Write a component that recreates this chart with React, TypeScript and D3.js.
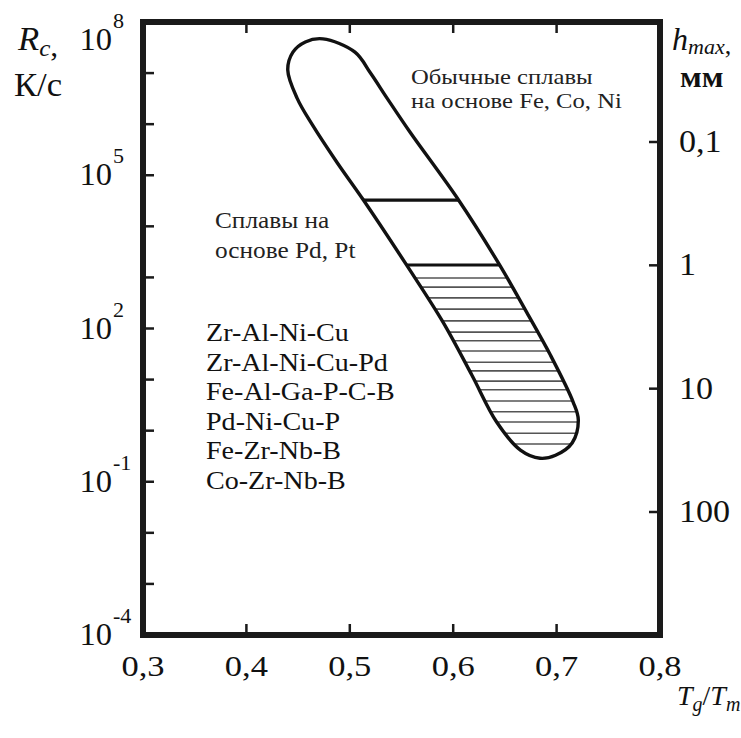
import React from 'react';
import * as d3 from 'd3';

// ---- data ----
const xTickValues = [0.3, 0.4, 0.5, 0.6, 0.7, 0.8];
const xTickLabels = ['0,3', '0,4', '0,5', '0,6', '0,7', '0,8'];
const rcLabelExps = [8, 5, 2, -1, -4];
const rcTickExps = [-4, -3, -2, -1, 0, 1, 2, 3, 4, 5, 6, 7, 8];
const hTickValues = [0.1, 1, 10, 100];
const hTickLabels = ['0,1', '1', '10', '100'];

// boundary of the glass-forming region: Tg/Tm and log10(Rc)
const regionTgTm = [0.474, 0.505, 0.52, 0.536, 0.558, 0.605, 0.645, 0.671, 0.694, 0.716, 0.721, 0.715, 0.699, 0.684, 0.665, 0.642, 0.618, 0.59, 0.555, 0.513, 0.488, 0.464, 0.449, 0.44, 0.445, 0.457];
const regionLogRc = [7.67, 7.41, 7.0, 6.51, 5.85, 4.52, 3.24, 2.32, 1.48, 0.56, 0.21, -0.24, -0.48, -0.54, -0.38, 0.17, 1.09, 2.13, 3.24, 4.52, 5.24, 5.98, 6.51, 7.06, 7.41, 7.61];
const separatorLogRc = [4.515, 3.243];
const hatchLogRc = [2.99, 2.81, 2.6, 2.38, 2.15, 1.93, 1.76, 1.56, 1.34, 1.17, 0.97, 0.8, 0.58, 0.37, 0.17, -0.05, -0.26];

const alloyNames = ['Zr-Al-Ni-Cu', 'Zr-Al-Ni-Cu-Pd', 'Fe-Al-Ga-P-C-B', 'Pd-Ni-Cu-P', 'Fe-Zr-Nb-B', 'Co-Zr-Nb-B'];
const ordinaryLines = ['Обычные сплавы', 'на основе Fe, Co, Ni'];
const pdLines = ['Сплавы на', 'основе Pd, Pt'];

const W = 741;
const H = 738;
const L = 143, R = 660, T = 22, B = 635;
const FONT = "'Liberation Serif', 'Times New Roman', serif";

const Txt = ({ x, y, size, sx = 1.1, anchor = 'start', children, ...rest }: any) => (
  <text
    transform={`translate(${x},${y}) scale(${sx},1)`}
    fontSize={size}
    textAnchor={anchor}
    fill="#111"
    style={{ fontFamily: FONT }}
    {...rest}
  >
    {children}
  </text>
);

export default function App() {
  const x = d3.scaleLinear().domain([0.3, 0.8]).range([L, R]);
  const y = d3.scaleLog().domain([1e-4, 1e8]).range([B, T]);
  const yh = d3.scaleLog().domain([0.1, 100]).range([142, 512]);

  const pts: [number, number][] = regionTgTm.map((v, i) => [v, Math.pow(10, regionLogRc[i])]);
  const shape = d3
    .line<[number, number]>()
    .x((d) => x(d[0]))
    .y((d) => y(d[1]))
    .curve(d3.curveCatmullRomClosed.alpha(0.5))(pts) as string;

  const tick = 11;

  return (
    <svg width={W} height={H} style={{ position: 'absolute', left: 0, top: 0, background: '#fff', fontFamily: FONT }}>
      <rect x={0} y={0} width={W} height={H} fill="#fff" />
      <defs>
        <clipPath id="regionClip">
          <path d={shape} />
        </clipPath>
      </defs>

      {/* hatching */}
      <g clipPath="url(#regionClip)">
        {hatchLogRc.map((v, i) => (
          <line key={i} x1={x(0.4)} x2={x(0.8)} y1={y(Math.pow(10, v))} y2={y(Math.pow(10, v))} stroke="#555" strokeWidth={1.6} />
        ))}
        {separatorLogRc.map((v, i) => (
          <line key={i} x1={x(0.4)} x2={x(0.8)} y1={y(Math.pow(10, v))} y2={y(Math.pow(10, v))} stroke="#111" strokeWidth={3.2} />
        ))}
      </g>
      <path d={shape} fill="none" stroke="#111" strokeWidth={3.4} />

      {/* frame */}
      <rect x={L} y={T} width={R - L} height={B - T} fill="none" stroke="#1a1a1a" strokeWidth={6} />

      {/* left ticks */}
      {rcTickExps.map((e) => (
        <line key={e} x1={L} x2={L + tick} y1={y(Math.pow(10, e))} y2={y(Math.pow(10, e))} stroke="#1a1a1a" strokeWidth={2.5} />
      ))}
      {/* bottom / top ticks */}
      {xTickValues.slice(1, -1).map((v) => (
        <g key={v}>
          <line x1={x(v)} x2={x(v)} y1={B} y2={B - tick} stroke="#1a1a1a" strokeWidth={2.5} />
          <line x1={x(v)} x2={x(v)} y1={T} y2={T + tick} stroke="#1a1a1a" strokeWidth={2.5} />
        </g>
      ))}
      {/* right ticks */}
      {hTickValues.map((v) => (
        <line key={v} x1={R} x2={R - tick} y1={yh(v)} y2={yh(v)} stroke="#1a1a1a" strokeWidth={2.5} />
      ))}

      {/* left labels */}
      {rcLabelExps.map((e) => {
        const yy = Math.max(y(Math.pow(10, e)) + 10, 50);
        return (
          <g key={e}>
            <Txt x={112} y={yy} size={31} anchor="end" sx={1.05}>10</Txt>
            <Txt x={113} y={yy - 22} size={21} sx={1.05}>{e}</Txt>
          </g>
        );
      })}
      {/* bottom labels */}
      {xTickValues.map((v, i) => (
        <Txt key={v} x={x(v)} y={676} size={30} anchor="middle" sx={1.15}>{xTickLabels[i]}</Txt>
      ))}
      {/* right labels */}
      {hTickValues.map((v, i) => (
        <Txt key={v} x={679} y={yh(v) + 10} size={31} sx={1.1}>{hTickLabels[i]}</Txt>
      ))}

      {/* axis titles */}
      <Txt x={18} y={50} size={33} sx={1.05}>
        <tspan fontStyle="italic">R</tspan>
        <tspan fontStyle="italic" fontSize={24} dy={6}>c</tspan>
        <tspan fontSize={30}>,</tspan>
      </Txt>
      <Txt x={14} y={96} size={33} sx={1.05}>К/с</Txt>

      <Txt x={672} y={50} size={32} sx={1.0}>
        <tspan fontStyle="italic">h</tspan>
        <tspan fontStyle="italic" fontSize={22} dy={4}>max</tspan>
        <tspan fontSize={26}>,</tspan>
      </Txt>
      <Txt x={680} y={87} size={29} sx={1.1} fontWeight="bold">мм</Txt>

      <Txt x={677} y={705} size={28} sx={1.0}>
        <tspan fontStyle="italic">T</tspan>
        <tspan fontStyle="italic" fontSize={20} dy={6}>g</tspan>
        <tspan dy={-6}>/</tspan>
        <tspan fontStyle="italic">T</tspan>
        <tspan fontStyle="italic" fontSize={20} dy={6}>m</tspan>
      </Txt>

      {/* annotations */}
      {ordinaryLines.map((s, i) => (
        <Txt key={s} x={411} y={84 + i * 24} size={22} sx={1.12} fill="#222">{s}</Txt>
      ))}
      {pdLines.map((s, i) => (
        <Txt key={s} x={215} y={228 + i * 30} size={23} sx={1.1} fill="#222">{s}</Txt>
      ))}
      {alloyNames.map((s, i) => (
        <Txt key={s} x={206} y={341 + i * 29.5} size={26} sx={1.08}>{s}</Txt>
      ))}
    </svg>
  );
}
